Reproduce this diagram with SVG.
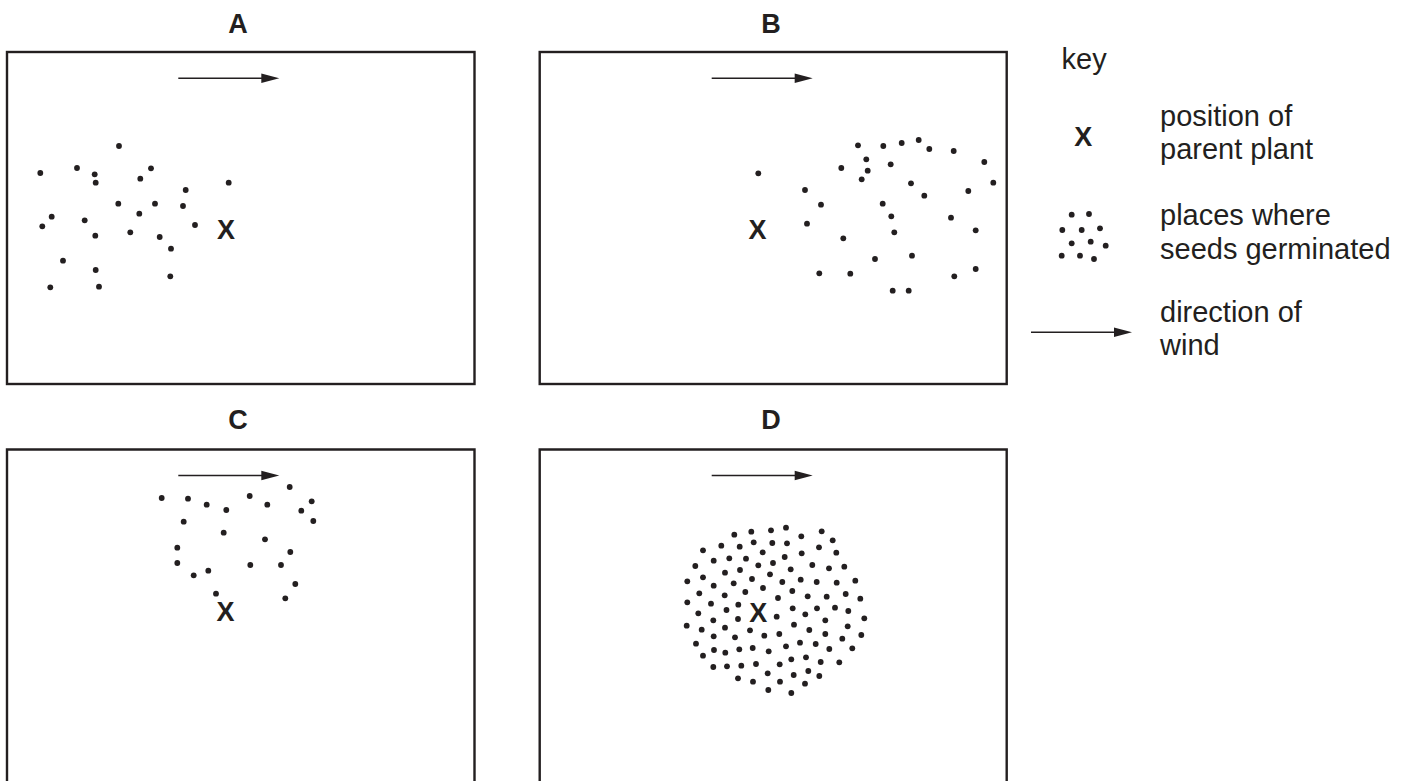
<svg xmlns="http://www.w3.org/2000/svg" xmlns:xlink="http://www.w3.org/1999/xlink" width="1413" height="781" viewBox="0 0 1413 781">
<style>
.frame{fill:none;stroke:#231f20;stroke-width:2.4}
.title{font-family:"Liberation Sans",Arial,sans-serif;font-weight:bold;font-size:27px;fill:#231f20;text-anchor:middle}
.x{font-family:"Liberation Sans",Arial,sans-serif;font-weight:bold;font-size:27px;fill:#231f20;text-anchor:middle}
.key{font-family:"Liberation Sans",Arial,sans-serif;font-size:29px;fill:#231f20}
.wind{stroke:#231f20;stroke-width:1.4;fill:none}
.head{fill:#231f20}
</style>
<defs>
<circle id="d" r="2.9" fill="#231f20"/>
<g id="arrow">
<line class="wind" x1="0" y1="0" x2="86" y2="0"/>
<polygon class="head" points="101,0 83,-4.8 83,4.8"/>
</g>
</defs>
<rect width="1413" height="781" fill="#ffffff"/>

<g id="panelA">
<text class="title" x="238" y="33">A</text>
<rect class="frame" x="7" y="52" width="467.5" height="332"/>
<text class="x" x="226" y="238.7">X</text>
<g>
<use href="#d" x="119" y="146"/><use href="#d" x="40.3" y="173"/><use href="#d" x="77" y="168"/><use href="#d" x="94.7" y="174.3"/><use href="#d" x="95.7" y="182.7"/><use href="#d" x="151" y="168.3"/><use href="#d" x="140.3" y="178.7"/><use href="#d" x="228.7" y="182.7"/><use href="#d" x="185.7" y="190"/><use href="#d" x="118.3" y="203.7"/><use href="#d" x="155" y="203.7"/><use href="#d" x="183" y="206"/><use href="#d" x="139.3" y="213.7"/><use href="#d" x="51.7" y="216.7"/><use href="#d" x="42.3" y="226.3"/><use href="#d" x="84.7" y="220.3"/><use href="#d" x="195" y="225"/><use href="#d" x="95.3" y="235.7"/><use href="#d" x="130.3" y="232.3"/><use href="#d" x="159.7" y="237"/><use href="#d" x="171" y="248.7"/><use href="#d" x="63" y="260.7"/><use href="#d" x="95.7" y="270"/><use href="#d" x="170.3" y="276.3"/><use href="#d" x="50.3" y="287.3"/><use href="#d" x="99" y="286.7"/>
</g>
</g>

<g id="panelB">
<text class="title" x="771" y="33">B</text>
<rect class="frame" x="539.7" y="52" width="467" height="332"/>
<text class="x" x="757.5" y="238.7">X</text>
<g>
<use href="#d" x="758.3" y="173.3"/><use href="#d" x="858" y="145.3"/><use href="#d" x="883.3" y="146"/><use href="#d" x="901.7" y="143"/><use href="#d" x="918.7" y="140"/><use href="#d" x="929.3" y="149"/><use href="#d" x="953.7" y="151"/><use href="#d" x="984.3" y="162"/><use href="#d" x="993.3" y="182.7"/><use href="#d" x="866.3" y="159.3"/><use href="#d" x="890.7" y="164.3"/><use href="#d" x="841.3" y="168"/><use href="#d" x="867.7" y="170.7"/><use href="#d" x="861.7" y="179.3"/><use href="#d" x="911" y="183.3"/><use href="#d" x="968.3" y="191"/><use href="#d" x="805" y="190"/><use href="#d" x="924.3" y="195.7"/><use href="#d" x="821" y="204.7"/><use href="#d" x="882.7" y="203.7"/><use href="#d" x="807" y="223.7"/><use href="#d" x="891.3" y="216.3"/><use href="#d" x="951" y="217.7"/><use href="#d" x="894.3" y="232.3"/><use href="#d" x="975.7" y="230.3"/><use href="#d" x="843.3" y="238.3"/><use href="#d" x="875" y="259"/><use href="#d" x="912" y="255.7"/><use href="#d" x="819.3" y="273.3"/><use href="#d" x="850.3" y="273.7"/><use href="#d" x="954.3" y="276.3"/><use href="#d" x="975.7" y="269"/><use href="#d" x="892.7" y="290.7"/><use href="#d" x="908.7" y="290.7"/>
</g>
</g>

<g id="panelC">
<text class="title" x="238" y="429">C</text>
<path class="frame" d="M7,790 V449.5 H474.5 V790"/>
<text class="x" x="225.5" y="620.7">X</text>
<g>
<use href="#d" x="161.7" y="498"/><use href="#d" x="188" y="498.7"/><use href="#d" x="206.7" y="504.7"/><use href="#d" x="226.3" y="510"/><use href="#d" x="249.7" y="496"/><use href="#d" x="267.3" y="504.7"/><use href="#d" x="289.7" y="487"/><use href="#d" x="311.7" y="501.3"/><use href="#d" x="301.3" y="510.7"/><use href="#d" x="313.3" y="521"/><use href="#d" x="183.7" y="521.7"/><use href="#d" x="223.7" y="532.7"/><use href="#d" x="265" y="539.3"/><use href="#d" x="177.3" y="547.7"/><use href="#d" x="290.3" y="552"/><use href="#d" x="177.3" y="563"/><use href="#d" x="250.3" y="565"/><use href="#d" x="281" y="565"/><use href="#d" x="193.7" y="575.3"/><use href="#d" x="208.3" y="570.7"/><use href="#d" x="295.3" y="584"/><use href="#d" x="216" y="593.7"/><use href="#d" x="285.3" y="598.3"/>
</g>
</g>

<g id="panelD">
<text class="title" x="771" y="429">D</text>
<path class="frame" d="M539.7,790 V449.5 H1006.7 V790"/>
<text class="x" x="758.3" y="622">X</text>
<g>
<use href="#d" x="734.3" y="534.7"/><use href="#d" x="751.3" y="531.7"/><use href="#d" x="771" y="530.3"/><use href="#d" x="786" y="527.7"/><use href="#d" x="801.3" y="536.3"/><use href="#d" x="821.7" y="531.3"/><use href="#d" x="832.7" y="540.3"/>
<use href="#d" x="703" y="550.3"/><use href="#d" x="721.3" y="545.7"/><use href="#d" x="739.7" y="546.7"/><use href="#d" x="753.7" y="542.3"/><use href="#d" x="772.3" y="543"/><use href="#d" x="787" y="543.3"/><use href="#d" x="819" y="547.3"/><use href="#d" x="836.3" y="552.7"/>
<use href="#d" x="713.7" y="560.7"/><use href="#d" x="729.3" y="558.3"/><use href="#d" x="746" y="558.7"/><use href="#d" x="762.7" y="552.3"/><use href="#d" x="784.7" y="557"/><use href="#d" x="801.7" y="553.3"/>
<use href="#d" x="695.3" y="566"/><use href="#d" x="725" y="572.7"/><use href="#d" x="740" y="570"/><use href="#d" x="758.3" y="565.3"/><use href="#d" x="773" y="563"/><use href="#d" x="790.7" y="569.3"/><use href="#d" x="812.3" y="565"/><use href="#d" x="829" y="568.3"/><use href="#d" x="844.3" y="566.7"/>
<use href="#d" x="687.3" y="581.3"/><use href="#d" x="703" y="577.3"/><use href="#d" x="713.7" y="585.7"/><use href="#d" x="733.7" y="583.3"/><use href="#d" x="752" y="579"/><use href="#d" x="770" y="574.3"/><use href="#d" x="782.3" y="582"/><use href="#d" x="800.7" y="579.7"/><use href="#d" x="816.7" y="582"/><use href="#d" x="836.7" y="582.7"/><use href="#d" x="855.3" y="580.7"/>
<use href="#d" x="699.3" y="593.3"/><use href="#d" x="724.7" y="595.3"/><use href="#d" x="745.3" y="592"/><use href="#d" x="763" y="588"/><use href="#d" x="792.3" y="591"/><use href="#d" x="807.7" y="596.3"/><use href="#d" x="826.7" y="596.7"/><use href="#d" x="845.7" y="594"/><use href="#d" x="860.3" y="598.7"/>
<use href="#d" x="687.3" y="602.3"/><use href="#d" x="711" y="603.7"/><use href="#d" x="738.3" y="604.7"/><use href="#d" x="778" y="598"/><use href="#d" x="792.7" y="608.3"/><use href="#d" x="817" y="608.3"/><use href="#d" x="835" y="607.7"/><use href="#d" x="848.3" y="611"/><use href="#d" x="726.5" y="610"/>
<use href="#d" x="698.3" y="613.3"/><use href="#d" x="805.3" y="614.3"/><use href="#d" x="864.3" y="618.3"/>
<use href="#d" x="686.7" y="625.7"/><use href="#d" x="713.3" y="620.3"/><use href="#d" x="738" y="619"/><use href="#d" x="776.7" y="616.7"/><use href="#d" x="794" y="624.7"/><use href="#d" x="825.3" y="620.3"/>
<use href="#d" x="701.7" y="629.7"/><use href="#d" x="725" y="627.7"/><use href="#d" x="809.3" y="630"/><use href="#d" x="847.7" y="626.3"/>
<use href="#d" x="713.7" y="636.3"/><use href="#d" x="735" y="637.3"/><use href="#d" x="750" y="630.3"/><use href="#d" x="764.3" y="635.7"/><use href="#d" x="779.3" y="634"/><use href="#d" x="825.3" y="634"/><use href="#d" x="842.3" y="638.7"/><use href="#d" x="861.3" y="635"/>
<use href="#d" x="696" y="643.7"/><use href="#d" x="714" y="650"/><use href="#d" x="725.3" y="652.7"/><use href="#d" x="739.3" y="649.3"/><use href="#d" x="752.7" y="648"/><use href="#d" x="768.7" y="651.3"/><use href="#d" x="786" y="646.3"/><use href="#d" x="800" y="642.7"/><use href="#d" x="815.7" y="644"/><use href="#d" x="829.3" y="649"/><use href="#d" x="852.3" y="648.3"/>
<use href="#d" x="703" y="655.7"/><use href="#d" x="791.3" y="659.3"/><use href="#d" x="806" y="657.3"/>
<use href="#d" x="713.3" y="667"/><use href="#d" x="727" y="666.3"/><use href="#d" x="741.3" y="665.7"/><use href="#d" x="756" y="664"/><use href="#d" x="779.7" y="664.3"/><use href="#d" x="820.7" y="662"/><use href="#d" x="839.3" y="662.3"/>
<use href="#d" x="767.7" y="673.3"/><use href="#d" x="793.7" y="675"/><use href="#d" x="808.3" y="671"/><use href="#d" x="819.3" y="676"/>
<use href="#d" x="738" y="678.3"/><use href="#d" x="753" y="681.7"/><use href="#d" x="780" y="681.7"/><use href="#d" x="805" y="683.7"/>
<use href="#d" x="768.3" y="690"/><use href="#d" x="791.3" y="693"/>
</g>
</g>

<g id="key">
<text class="key" x="1061.5" y="69">key</text>
<text class="x" x="1083.3" y="146.4">X</text>
<text class="key" x="1160" y="126">position of</text>
<text class="key" x="1160" y="159">parent plant</text>
<g>
<use href="#d" x="1071.7" y="214.7"/><use href="#d" x="1089" y="214"/><use href="#d" x="1062.3" y="230"/><use href="#d" x="1081.7" y="230"/><use href="#d" x="1100" y="228.3"/><use href="#d" x="1071.7" y="243.3"/><use href="#d" x="1090.7" y="241.7"/><use href="#d" x="1105.7" y="245.7"/><use href="#d" x="1061.7" y="255.7"/><use href="#d" x="1080" y="255.7"/><use href="#d" x="1094" y="259"/>
</g>
<text class="key" x="1160" y="225">places where</text>
<text class="key" x="1160" y="258.5">seeds germinated</text>
<text class="key" x="1160" y="321.5">direction of</text>
<text class="key" x="1160" y="355">wind</text>
</g>

<g id="connectors">
<use href="#arrow" x="178.3" y="78.3"/>
<use href="#arrow" x="711.7" y="78.3"/>
<use href="#arrow" x="178.3" y="475.5"/>
<use href="#arrow" x="711.7" y="475.5"/>
<use href="#arrow" x="1031" y="332.3"/>
</g>
</svg>
